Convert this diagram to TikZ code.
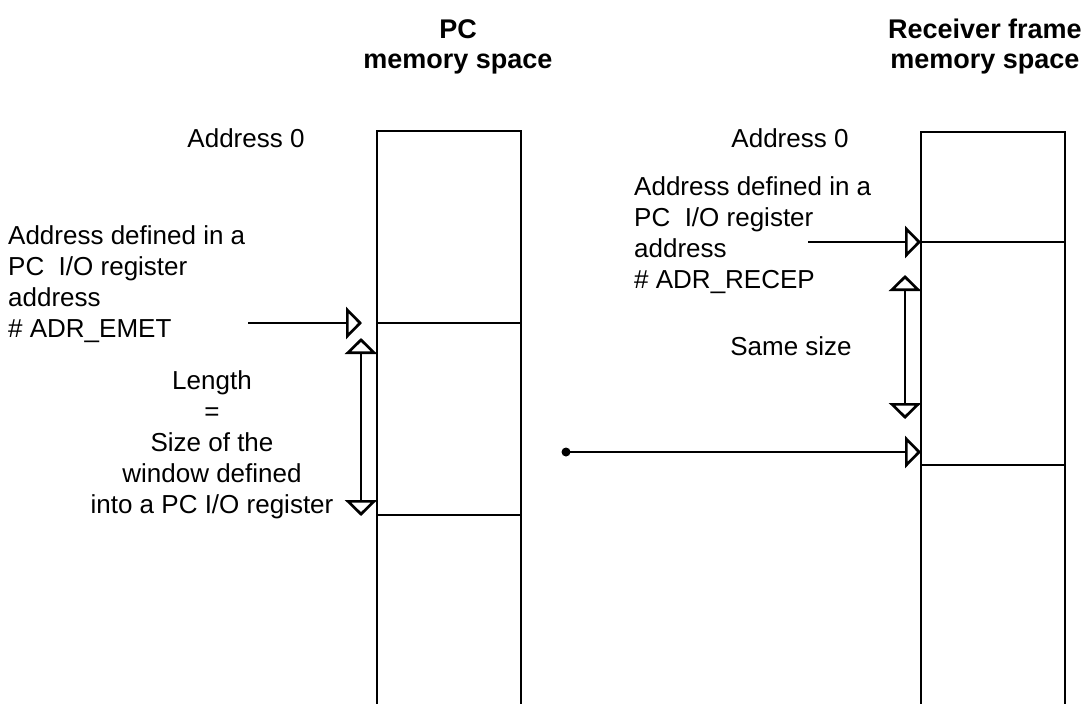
\documentclass[tikz,border=0pt]{standalone}
\usepackage{fontspec}
\setmainfont{Liberation Sans}
\usetikzlibrary{arrows.meta}
\begin{document}
\begin{tikzpicture}[x=1pt,y=-1pt,
  ln/.style={line width=2.7pt},
  txt/.style={anchor=base west, inner sep=0pt, font=\fontsize{26}{31}\selectfont},
  ctxt/.style={anchor=base, inner sep=0pt, font=\fontsize{26}{31}\selectfont},
  head/.style={anchor=base, inner sep=0pt, font=\fontsize{27}{31}\selectfont\bfseries},
  tip/.tip={Triangle[open,length=16pt,width=32pt]},
  onearrow/.style={ln,-tip},
  twoarrow/.style={ln,tip-tip},
  dotnode/.style={circle, fill=black, inner sep=0pt, minimum size=9pt}
]
\useasboundingbox (0,0) rectangle (1082,704);

% headers
\node[head] (pch1) at (458,38) {PC};
\node[head] (pch2) at (458,68) {memory space};
\node[head] (rch1) at (985,38) {Receiver frame};
\node[head] (rch2) at (985,68) {memory space};

% columns
\draw[ln] (377,704) -- (377,131) -- (521,131) -- (521,704);
\draw[ln] (377,323) -- (521,323);
\draw[ln] (377,515) -- (521,515);
\draw[ln] (921,704) -- (921,132) -- (1065,132) -- (1065,704);
\draw[ln] (921,242) -- (1065,242);
\draw[ln] (921,465) -- (1065,465);

% PC texts
\node[ctxt] (pca0) at (246,147) {Address 0};
\node[txt] (pcl1) at (8,244) {Address defined in a};
\node[txt] (pcl2) at (8,275) {PC\ \ I/O register};
\node[txt] (pcl3) at (8,306) {address};
\node[txt] (pcl4) at (8,337) {\# ADR\_EMET};
\node[ctxt] (len1) at (212,389) {Length};
\node[ctxt] (len2) at (212,420) {=};
\node[ctxt] (len3) at (212,451) {Size of the};
\node[ctxt] (len4) at (212,482) {window defined};
\node[ctxt] (len5) at (212,513) {into a PC I/O register};

% receiver texts
\node[ctxt] (rca0) at (790,147) {Address 0};
\node[txt] (rcl1) at (634,195) {Address defined in a};
\node[txt] (rcl2) at (634,226) {PC\ \ I/O register};
\node[txt] (rcl3) at (634,257) {address};
\node[txt] (rcl4) at (634,288) {\# ADR\_RECEP};
\node[ctxt] (same) at (791,355) {Same size};

% arrow coordinates
\coordinate (pcinS) at (248,323);
\coordinate (pcinE) at (362,323);
\coordinate (pclenT) at (361,338);
\coordinate (pclenB) at (361,516);
\coordinate (rcinS) at (808,242);
\coordinate (rcinE) at (921,242);
\coordinate (rclenT) at (905,275);
\coordinate (rclenB) at (905,419);
\coordinate (rcwinE) at (921,452);
\node[dotnode] (dot) at (566,452) {};

\draw[onearrow] (pcinS) -- (pcinE);
\draw[twoarrow] (pclenT) -- (pclenB);
\draw[onearrow] (rcinS) -- (rcinE);
\draw[twoarrow] (rclenT) -- (rclenB);
\draw[onearrow] (dot.center) -- (rcwinE);
\end{tikzpicture}
\end{document}
